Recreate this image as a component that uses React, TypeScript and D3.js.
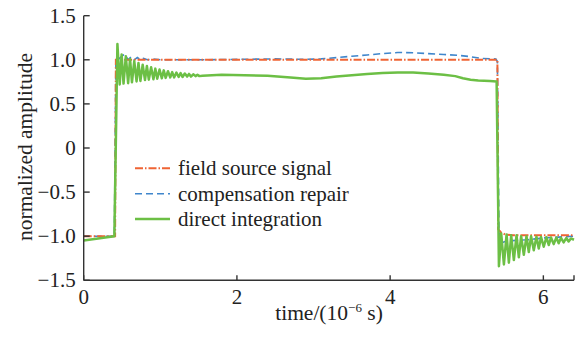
import React from 'react';
import * as d3 from 'd3';

// time in 10^-6 s, amplitude normalized
const fieldSource: [number, number][] = [
  [0, -1.0], [0.41, -1.0], [0.42, 1.0], [5.40, 1.0], [5.41, -0.92], [5.45, -0.96],
  [5.5, -0.98], [5.6, -0.99], [6.4, -0.99],
];

const compensation: [number, number][] = [
  [0, -1.0], [0.40, -1.0], [0.42, 0.98], [0.47, 1.02], [0.51, 1.05], [0.54, 1.06],
  [0.58, 1.0], [0.62, 1.035], [0.66, 1.0], [0.70, 1.025], [0.74, 1.0], [0.78, 1.015],
  [0.83, 1.0], [0.9, 1.01], [1.0, 1.0], [1.5, 1.0], [2.0, 1.005], [2.5, 1.01],
  [2.9, 1.005], [3.1, 1.01], [3.3, 1.025], [3.5, 1.04], [3.7, 1.055], [3.9, 1.07],
  [4.1, 1.083], [4.3, 1.08], [4.5, 1.07], [4.7, 1.06], [4.9, 1.05], [5.05, 1.035],
  [5.2, 1.015], [5.38, 1.01], [5.40, 0.98], [5.42, -0.9], [5.44, -1.08], [5.5, -1.06],
  [5.6, -1.05], [5.8, -1.04], [6.0, -1.02], [6.2, -1.01], [6.4, -1.0],
];

const directRise: [number, number][] = [
  [0, -1.05], [0.40, -1.0], [0.44, 1.18], [0.47, 0.72], [0.495, 1.06], [0.52, 0.73],
  [0.55, 1.04], [0.58, 0.735], [0.605, 1.01], [0.63, 0.745], [0.66, 0.985], [0.69, 0.755],
  [0.715, 0.965], [0.74, 0.76], [0.77, 0.945], [0.80, 0.77], [0.825, 0.93], [0.85, 0.775],
  [0.88, 0.915], [0.91, 0.78], [0.935, 0.90], [0.96, 0.785], [0.99, 0.89], [1.02, 0.79],
  [1.045, 0.88], [1.07, 0.795], [1.10, 0.87], [1.13, 0.80], [1.155, 0.86], [1.18, 0.80],
  [1.21, 0.855], [1.24, 0.805], [1.265, 0.85], [1.29, 0.805], [1.32, 0.845], [1.35, 0.81],
  [1.375, 0.84], [1.40, 0.81], [1.43, 0.835], [1.46, 0.815], [1.485, 0.83], [1.51, 0.815],
];

const directPlateau: [number, number][] = [
  [1.55, 0.82], [1.8, 0.83], [2.1, 0.825], [2.4, 0.82], [2.7, 0.80], [2.9, 0.785],
  [3.1, 0.79], [3.3, 0.81], [3.5, 0.825], [3.7, 0.84], [3.9, 0.85], [4.1, 0.857],
  [4.3, 0.855], [4.5, 0.845], [4.7, 0.83], [4.85, 0.815], [4.95, 0.79], [5.05, 0.775],
  [5.15, 0.765], [5.3, 0.76], [5.39, 0.755],
];

const directFall: [number, number][] = [
  [5.42, -1.34], [5.45, -0.97], [5.485, -1.32], [5.52, -0.98], [5.55, -1.30], [5.58, -0.99],
  [5.615, -1.27], [5.65, -0.99], [5.68, -1.24], [5.71, -1.0], [5.745, -1.21], [5.78, -1.0],
  [5.81, -1.18], [5.84, -1.0], [5.875, -1.16], [5.91, -1.005], [5.94, -1.14], [5.97, -1.01],
  [6.005, -1.12], [6.04, -1.01], [6.07, -1.10], [6.10, -1.015], [6.135, -1.09], [6.17, -1.015],
  [6.20, -1.08], [6.23, -1.02], [6.265, -1.07], [6.30, -1.02], [6.33, -1.06], [6.36, -1.025],
  [6.4, -1.04],
];

const xTicks = [0, 2, 4, 6];
const yTicks = [-1.5, -1.0, -0.5, 0, 0.5, 1.0, 1.5];
const legendLabels = ['field source signal', 'compensation repair', 'direct integration'];

const W = 584;
const H = 338;
const font = '"Liberation Serif", "Times New Roman", serif';

const fmtY = (v: number) => (v === 0 ? '0' : (v < 0 ? '\u2212' : '') + Math.abs(v).toFixed(1));

export default function App() {
  const x = d3.scaleLinear().domain([0, 6.4]).range([83.7, 574]);
  const y = d3.scaleLinear().domain([-1.5, 1.5]).range([280.3, 15.7]);
  const line = d3.line<[number, number]>().x(d => x(d[0])).y(d => y(d[1]));
  const direct = [...directRise, ...directPlateau, ...directFall];

  const styles = [
    { stroke: '#ef6434', width: 2, dash: '8 2 1.5 2' },
    { stroke: '#3f86cc', width: 1.6, dash: '7 4' },
    { stroke: '#6cbf45', width: 2.5, dash: undefined },
  ];

  return (
    <svg width={W} height={H} style={{ position: 'absolute', left: 0, top: 0, background: '#fff' }}
      fontFamily={font}>
      {/* series */}
      <path d={line(compensation) ?? ''} fill="none" stroke={styles[1].stroke}
        strokeWidth={styles[1].width} strokeDasharray={styles[1].dash} />
      <path d={line(fieldSource) ?? ''} fill="none" stroke={styles[0].stroke}
        strokeWidth={styles[0].width} strokeDasharray={styles[0].dash} />
      <path d={line(direct) ?? ''} fill="none" stroke={styles[2].stroke}
        strokeWidth={styles[2].width} strokeLinejoin="round" />

      {/* axes */}
      <g stroke="#333" strokeWidth={1.4}>
        <line x1={x(0)} x2={x(0)} y1={y(1.5)} y2={y(-1.5)} />
        <line x1={x(0)} x2={x(6.4)} y1={y(-1.5)} y2={y(-1.5)} />
        {yTicks.map(t => (
          <line key={'yt' + t} x1={x(0)} x2={x(0) + 6} y1={y(t)} y2={y(t)} />
        ))}
        {[...xTicks, 6.4].map(t => (
          <line key={'xt' + t} x1={x(t)} x2={x(t)} y1={y(-1.5)} y2={y(-1.5) - 5} />
        ))}
      </g>
      <g fontSize={21} fill="#222">
        {yTicks.map(t => (
          <text key={'yl' + t} x={x(0) - 8} y={y(t)} dy="0.34em" textAnchor="end">{fmtY(t)}</text>
        ))}
        {xTicks.map(t => (
          <text key={'xl' + t} x={x(t)} y={303.5} textAnchor="middle">{t}</text>
        ))}
      </g>

      {/* axis titles */}
      <text fontSize={21.5} fill="#222" textAnchor="middle" transform="translate(32,147) rotate(-90)">
        normalized amplitude
      </text>
      <text fontSize={21.5} fill="#222" textAnchor="middle" x={329} y={320}>
        <tspan>time/(10</tspan>
        <tspan fontSize={13} dy={-8}>{'\u2212'}6</tspan>
        <tspan dy={8}> s)</tspan>
      </text>

      {/* legend */}
      {legendLabels.map((label, i) => {
        const ly = 168.3 + i * 25.4;
        const s = styles[i];
        return (
          <g key={label}>
            <line x1={135} x2={170} y1={ly} y2={ly} stroke={s.stroke} strokeWidth={s.width}
              strokeDasharray={s.dash} />
            <text x={178} y={ly + 7} fontSize={21} fill="#222">{label}</text>
          </g>
        );
      })}
    </svg>
  );
}
